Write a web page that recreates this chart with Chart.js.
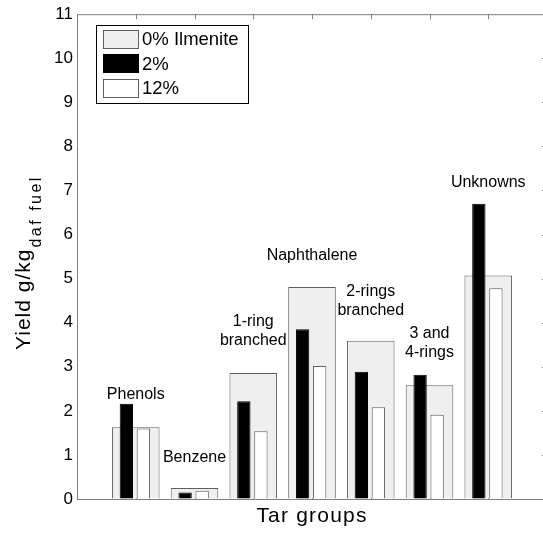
<!DOCTYPE html>
<html>
<head>
<meta charset="utf-8">
<script src="https://cdn.jsdelivr.net/npm/chart.js@4"></script>
<style>
  html, body { margin: 0; padding: 0; background: #fff; overflow: hidden; }
</style>
</head>
<body>
<canvas id="myChart" width="552" height="536"></canvas>
<script>
// tar groups and yields (g/kg daf fuel)
const groups = ['Phenols', 'Benzene', '1-ring branched', 'Naphthalene', '2-rings branched', '3 and 4-rings', 'Unknowns'];
const groupLabelLines = [['Phenols'], ['Benzene'], ['1-ring', 'branched'], ['Naphthalene'], ['2-rings', 'branched'], ['3 and', '4-rings'], ['Unknowns']];
const groupLabelY = [2.37, 0.94, 4.02, 5.52, 4.71, 3.75, 7.19];
const ilmenite0 = [1.63, 0.25, 2.86, 4.81, 3.59, 2.58, 5.07];
const ilmenite2 = [2.16, 0.15, 2.22, 3.85, 2.89, 2.82, 6.70];
const ilmenite12 = [1.60, 0.19, 1.54, 3.02, 2.08, 1.91, 4.78];
const seriesNames = ['0% Ilmenite', '2%', '12%'];
const yMin = 0, yMax = 11, yStep = 1;
const xMin = 0, xMax = groups.length + 1;   // matlab xlim [0 8]

const FONT = '"Liberation Sans", Arial, sans-serif';
const AXIS_GREY = '#7f7f7f';

// group i sits at x = i+1; the narrow bars are shifted left / right inside the wide one
const toPoints = (vals, shift) => vals.map((v, i) => ({ x: i + 1 + shift, y: v }));

const matlabBits = {
    id: 'matlabBits',
    beforeDatasetsDraw(chart) {
        const ctx = chart.ctx;
        const a = chart.chartArea;
        const x = chart.scales.x, y = chart.scales.y;
        ctx.save();
        ctx.strokeStyle = AXIS_GREY;
        ctx.lineWidth = 1;
        ctx.beginPath();
        // top + right box lines
        ctx.moveTo(a.left, a.top + 0.5); ctx.lineTo(a.right, a.top + 0.5);
        ctx.moveTo(a.right - 0.5, a.top); ctx.lineTo(a.right - 0.5, a.bottom);
        // inward ticks on groups (top and bottom)
        for (let i = 1; i <= groups.length; i++) {
            const px = Math.round(x.getPixelForValue(i)) + 0.5;
            ctx.moveTo(px, a.top); ctx.lineTo(px, a.top + 5);
            ctx.moveTo(px, a.bottom); ctx.lineTo(px, a.bottom - 5);
        }
        // inward ticks on right side
        for (let v = yMin + yStep; v < yMax; v += yStep) {
            const py = Math.round(y.getPixelForValue(v)) + 0.5;
            ctx.moveTo(a.right, py); ctx.lineTo(a.right - 5, py);
        }
        ctx.stroke();
        ctx.restore();
    },
    afterDatasetsDraw(chart) {
        const ctx = chart.ctx;
        const a = chart.chartArea;
        const x = chart.scales.x, y = chart.scales.y;
        ctx.save();

        // group names above the bars
        ctx.fillStyle = '#000';
        ctx.font = '16px ' + FONT;
        ctx.textAlign = 'center';
        ctx.textBaseline = 'middle';
        groupLabelLines.forEach((lines, i) => {
            const px = x.getPixelForValue(i + 1);
            const py = y.getPixelForValue(groupLabelY[i]);
            lines.forEach((t, k) => ctx.fillText(t, px, py + k * 19));
        });

        // legend box
        const lx = 96, ly = 25, lw = 152, lh = 78;
        ctx.fillStyle = '#fff';
        ctx.fillRect(lx, ly, lw, lh);
        ctx.strokeStyle = '#000';
        ctx.lineWidth = 1;
        ctx.strokeRect(lx + 0.5, ly + 0.5, lw, lh);
        ctx.font = '18.5px ' + FONT;
        ctx.textAlign = 'left';
        chart.data.datasets.forEach((ds, i) => {
            const cy = ly + 14 + i * 24.7;
            ctx.fillStyle = ds.backgroundColor;
            ctx.fillRect(103, Math.round(cy - 9.5), 36, 19);
            ctx.strokeStyle = ds.borderColor;
            ctx.strokeRect(103.5, Math.round(cy - 9.5) + 0.5, 35, 18);
            ctx.fillStyle = '#000';
            ctx.fillText(seriesNames[i], 142, cy + 1);
        });

        // x title
        ctx.font = '21px ' + FONT;
        ctx.letterSpacing = '1.2px';
        ctx.textAlign = 'center';
        ctx.textBaseline = 'middle';
        ctx.fillText('Tar groups', (a.left + a.right) / 2, 516);

        // y title with subscript
        ctx.translate(30, 350);
        ctx.rotate(-Math.PI / 2);
        ctx.textAlign = 'left';
        ctx.textBaseline = 'alphabetic';
        ctx.font = '21px ' + FONT;
        ctx.letterSpacing = '1px';
        const main = 'Yield g/kg';
        ctx.fillText(main, 0, 0);
        const w = ctx.measureText(main).width;
        ctx.font = '16px ' + FONT;
        ctx.letterSpacing = '2.5px';
        ctx.fillText('daf fuel', w + 1, 11);
        ctx.restore();
    }
};

const hiddenX = { type: 'linear', display: false, offset: false, min: xMin, max: xMax, ticks: { stepSize: 1 } };

const data = {
    datasets: [
        {
            label: seriesNames[0],
            data: toPoints(ilmenite0, 0),
            xAxisID: 'x',
            backgroundColor: '#efefef',
            borderColor: '#5f5f5f',
            borderWidth: 1,
            grouped: false,
            barPercentage: 0.81,
            categoryPercentage: 1,
            order: 2
        },
        {
            label: seriesNames[1],
            data: toPoints(ilmenite2, -0.16),
            xAxisID: 'xb',
            backgroundColor: '#000000',
            borderColor: '#000000',
            borderWidth: 1,
            grouped: false,
            barPercentage: 0.227,
            categoryPercentage: 1,
            order: 1
        },
        {
            label: seriesNames[2],
            data: toPoints(ilmenite12, 0.13),
            xAxisID: 'xw',
            backgroundColor: '#ffffff',
            borderColor: '#5f5f5f',
            borderWidth: 1,
            grouped: false,
            barPercentage: 0.227,
            categoryPercentage: 1,
            order: 1
        }
    ]
};

const config = {
    type: 'bar',
    data: data,
    plugins: [matlabBits],
    options: {
        responsive: false,
        animation: false,
        devicePixelRatio: 1,
        layout: { padding: { left: 0, top: 13, right: 5, bottom: 0 } },
        plugins: {
            legend: { display: false },
            tooltip: { enabled: false }
        },
        scales: {
            x: {
                type: 'linear',
                offset: false,
                min: xMin,
                max: xMax,
                afterFit: (s) => { s.height = 37; },
                ticks: { display: false, stepSize: 1 },
                grid: { drawOnChartArea: false, drawTicks: false },
                border: { color: AXIS_GREY, width: 1 }
            },
            xb: hiddenX,
            xw: hiddenX,
            y: {
                min: yMin,
                max: yMax,
                afterFit: (s) => { s.width = 77; },
                ticks: {
                    stepSize: yStep,
                    color: '#000',
                    padding: 4,
                    font: { family: FONT, size: 17 }
                },
                grid: { drawOnChartArea: false, drawTicks: false },
                border: { color: AXIS_GREY, width: 1 }
            }
        }
    }
};

const myChart = new Chart(document.getElementById('myChart'), config);
</script>
</body>
</html>
